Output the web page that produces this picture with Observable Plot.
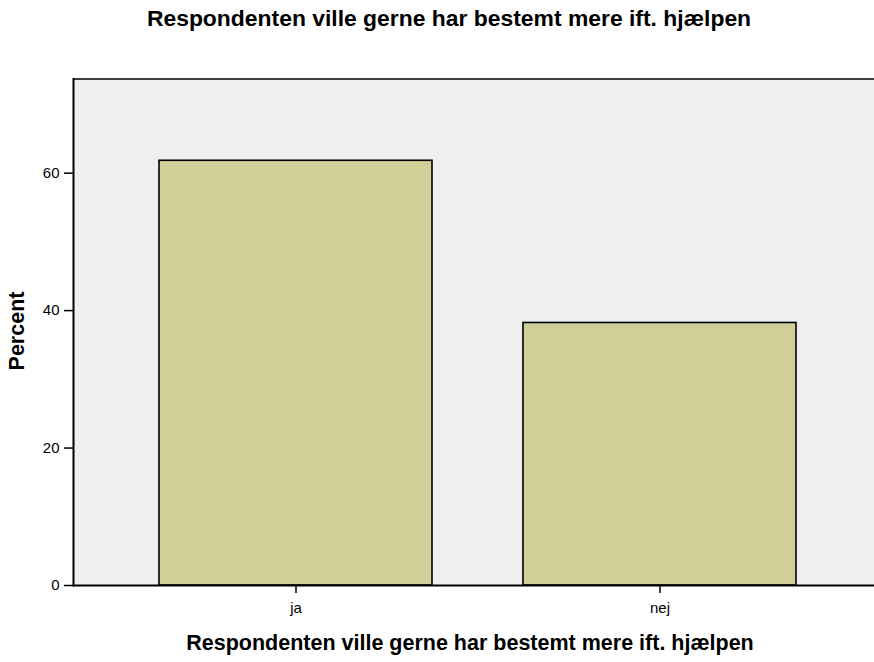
<!DOCTYPE html>
<html>
<head>
<meta charset="utf-8">
<script src="https://cdn.jsdelivr.net/npm/d3@7"></script>
<script src="https://cdn.jsdelivr.net/npm/@observablehq/plot@0.6"></script>
<style>
  body { margin: 0; background: #fff; font-family: "Liberation Sans", Arial, sans-serif; }
  #wrap { position: relative; width: 874px; height: 662px; overflow: hidden; }
  #title { position: absolute; top: 5px; left: 12px; width: 874px; text-align: center;
           font-weight: bold; font-size: 22.9px; color: #000; white-space: nowrap; }
  #xlabel { position: absolute; top: 631px; left: 33px; width: 874px; text-align: center;
            font-weight: bold; font-size: 21.5px; color: #000; white-space: nowrap; }
  #ylabel { position: absolute; left: 17px; top: 331px; transform: translate(-50%, -50%) rotate(-90deg);
            font-weight: bold; font-size: 21.5px; color: #000; white-space: nowrap; }
  svg { position: absolute; top: 0; left: 0; }
  svg text { font-size: 15px; }
</style>
</head>
<body>
<div id="wrap">
  <div id="title">Respondenten ville gerne har bestemt mere ift. hjælpen</div>
  <div id="xlabel">Respondenten ville gerne har bestemt mere ift. hjælpen</div>
  <div id="ylabel">Percent</div>
</div>
<script>
const categories = ["ja", "nej"];
const percents = [61.8, 38.2];
const yTicks = [0, 20, 40, 60];

const data = categories.map((c, i) => ({category: c, percent: percents[i]}));

const chart = Plot.plot({
  width: 874,
  height: 662,
  marginTop: 78.5,
  marginBottom: 77,
  marginLeft: 73,
  marginRight: 0,
  style: {fontFamily: "'Liberation Sans', Arial, sans-serif", fontSize: "15px", background: "transparent", overflow: "hidden"},
  x: {domain: categories, range: [73, 882], paddingInner: 0.25, paddingOuter: 0.236, label: null},
  y: {domain: [0, 73.7], label: null},
  marks: [
    Plot.frame({fill: "#efefef", stroke: "none"}),
    Plot.barY(data, {x: "category", y: "percent", fill: "#d2cf99", stroke: "#000", strokeWidth: 1.6}),
    Plot.ruleY([0], {stroke: "#000", strokeWidth: 2}),
    Plot.ruleY([73.7], {stroke: "#000", strokeWidth: 1.5}),
    Plot.frame({anchor: "left", stroke: "#000", strokeWidth: 2}),
    Plot.axisY({ticks: yTicks, tickSize: 9, tickPadding: 5, tickFormat: d => d, label: null, strokeWidth: 1.5, fontSize: 15}),
    Plot.axisX({tickSize: 8, tickPadding: 9, label: null, strokeWidth: 1.5, fontSize: 15})
  ]
});
document.getElementById("wrap").appendChild(chart);
</script>
</body>
</html>
